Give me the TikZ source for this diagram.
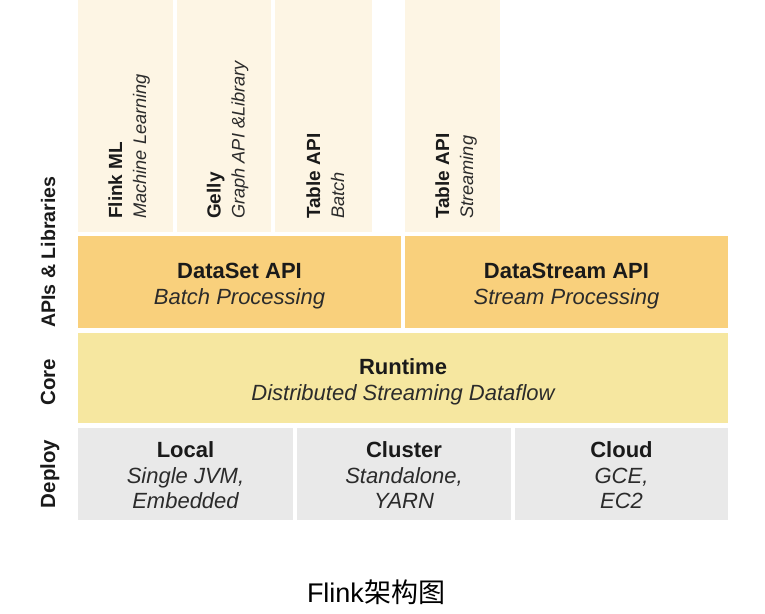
\documentclass[tikz,border=0pt]{standalone}
\usepackage{fontspec}
\setmainfont{Liberation Sans}
\newfontfamily\cjk{Noto Sans CJK SC}
\definecolor{libcol}{HTML}{FDF5E4}
\definecolor{apicol}{HTML}{F9D07C}
\definecolor{corecol}{HTML}{F6E7A0}
\definecolor{depcol}{HTML}{E9E9E9}
\definecolor{txt}{HTML}{1A1A1A}
\definecolor{subtxt}{HTML}{2B2B2B}
\tikzset{
  box/.style={draw=none, inner sep=0pt, outer sep=0pt, anchor=north west},
  coltitle/.style={rotate=90, anchor=base west, inner sep=0pt, text=txt, font=\bfseries\fontsize{19}{23}\selectfont},
  colsub/.style={rotate=90, anchor=base west, inner sep=0pt, text=subtxt, font=\itshape\fontsize{18.2}{22}\selectfont},
  blktitle/.style={anchor=base, inner sep=0pt, text=txt, font=\bfseries\fontsize{22}{26}\selectfont},
  blksub/.style={anchor=base, inner sep=0pt, text=subtxt, font=\itshape\fontsize{22}{26}\selectfont},
  side/.style={rotate=90, anchor=base, inner sep=0pt, text=txt, font=\bfseries\fontsize{20.5}{24}\selectfont},
  caption/.style={anchor=base, inner sep=0pt, text=black, font=\fontsize{27}{32}\selectfont}
}
\begin{document}
\begin{tikzpicture}[x=1pt,y=-1pt]
\useasboundingbox (0,0) rectangle (765,613);
\fill[white] (0,0) rectangle (765,613);
% library columns
\node[box, fill=libcol, minimum width=95pt, minimum height=232pt] (lib1) at (78,0) {};
\node[box, fill=libcol, minimum width=94pt, minimum height=232pt] (lib2) at (177,0) {};
\node[box, fill=libcol, minimum width=97pt, minimum height=232pt] (lib3) at (275,0) {};
\node[box, fill=libcol, minimum width=95pt, minimum height=232pt] (lib4) at (405,0) {};
% API blocks
\node[box, fill=apicol, minimum width=323pt, minimum height=92pt] (dataset) at (78,236) {};
\node[box, fill=apicol, minimum width=323pt, minimum height=92pt] (datastream) at (405,236) {};
% core
\node[box, fill=corecol, minimum width=650pt, minimum height=90pt] (runtime) at (78,333) {};
% deploy
\node[box, fill=depcol, minimum width=215pt, minimum height=92pt] (local) at (78,428) {};
\node[box, fill=depcol, minimum width=214pt, minimum height=92pt] (cluster) at (297,428) {};
\node[box, fill=depcol, minimum width=213pt, minimum height=92pt] (cloud) at (515,428) {};

% column texts
\node[coltitle] (t1a) at (122,219) {Flink ML};
\node[colsub]   (t1b) at (146,219) {Machine Learning};
\node[coltitle] (t2a) at (220.5,219) {Gelly};
\node[colsub]   (t2b) at (244.5,219) {Graph API \&Library};
\node[coltitle] (t3a) at (320,219) {Table API};
\node[colsub]   (t3b) at (344,219) {Batch};
\node[coltitle] (t4a) at (449,219) {Table API};
\node[colsub]   (t4b) at (473,219) {Streaming};

% block texts
\node[blktitle] (dsa) at (239.5,278) {DataSet API};
\node[blksub]   (dsb) at (239.5,304) {Batch Processing};
\node[blktitle] (dta) at (566.5,278) {DataStream API};
\node[blksub]   (dtb) at (566.5,304) {Stream Processing};
\node[blktitle] (rta) at (403,374) {Runtime};
\node[blksub]   (rtb) at (403,400) {Distributed Streaming Dataflow};
\node[blktitle] (lca) at (185.5,457.5) {Local};
\node[blksub]   (lcb) at (185.5,483) {Single JVM,};
\node[blksub]   (lcc) at (185.5,508.5) {Embedded};
\node[blktitle] (cla) at (404,457.5) {Cluster};
\node[blksub]   (clb) at (404,483) {Standalone,};
\node[blksub]   (clc) at (404,508.5) {YARN};
\node[blktitle] (cda) at (621.5,457.5) {Cloud};
\node[blksub]   (cdb) at (621.5,483) {GCE,};
\node[blksub]   (cdc) at (621.5,508.5) {EC2};

% side labels
\node[side, font=\bfseries\fontsize{19.6}{23}\selectfont] (s1) at (55,252) {APIs \& Libraries};
\node[side] (s2) at (55,382) {Core};
\node[side] (s3) at (55,474) {Deploy};

% caption
\node[caption] (cap) at (376,602) {Flink{\cjk 架构图}};
\end{tikzpicture}
\end{document}
